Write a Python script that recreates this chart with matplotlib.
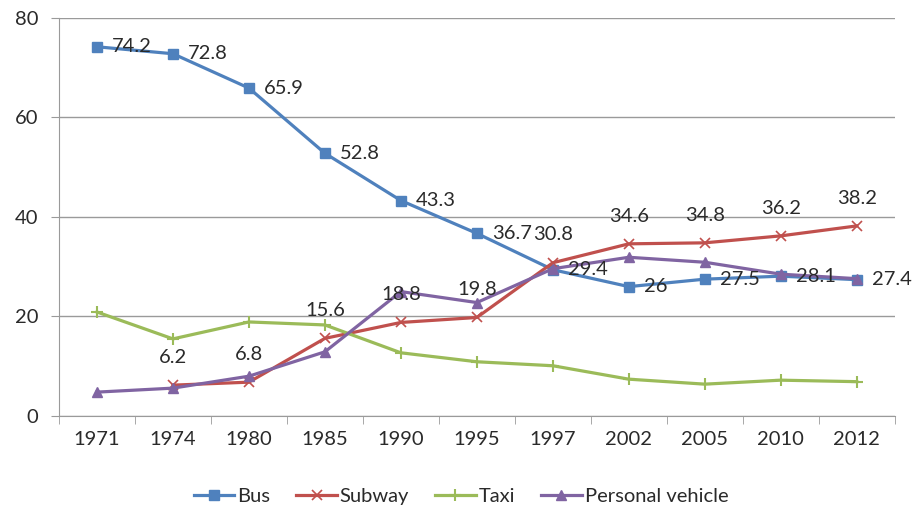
import numpy as np
import matplotlib
matplotlib.use('Agg')
import matplotlib.pyplot as plt

plt.rcParams['font.family'] = ['Lato', 'DejaVu Sans']

# Datos por año (participación en %)
years = ['1971', '1974', '1980', '1985', '1990', '1995', '1997', '2002', '2005', '2010', '2012']
bus = [74.2, 72.8, 65.9, 52.8, 43.3, 36.7, 29.4, 26, 27.5, 28.1, 27.4]
subway = [np.nan, 6.2, 6.8, 15.6, 18.8, 19.8, 30.8, 34.6, 34.8, 36.2, 38.2]
taxi = [20.9, 15.5, 18.9, 18.3, 12.7, 10.9, 10.1, 7.4, 6.4, 7.2, 6.9]
personal = [4.8, 5.6, 8.0, 12.9, 25.0, 22.8, 29.6, 31.9, 30.9, 28.5, 27.6]

gray = '#9a9a9a'
txt = '#2a2a2a'
fs = 14.5
x = np.arange(len(years))

fig = plt.figure(figsize=(9.13, 5.12), dpi=100)
ax = fig.add_axes([0.0646, 0.1875, 0.9154, 0.7775])

ax.plot(x, bus, color='#4F81BD', lw=2.3, marker='s', ms=7, label='Bus')
ax.plot(x, subway, color='#C0504D', lw=2.3, marker='x', ms=7, mew=1.2, label='Subway')
ax.plot(x, taxi, color='#9BBB59', lw=2.3, marker='+', ms=8, mew=1.5, label='Taxi')
ax.plot(x, personal, color='#8064A2', lw=2.3, marker='^', ms=7, label='Personal vehicle')

# Etiquetas de valores: bus a la derecha, metro arriba
for i, v in enumerate(bus):
    ax.annotate('{:g}'.format(v), (x[i], v), xytext=(11, 0), textcoords='offset points',
                ha='left', va='center', fontsize=fs, color=txt)
for i, v in enumerate(subway):
    if np.isnan(v):
        continue
    ax.annotate('{:g}'.format(v), (x[i], v), xytext=(0, 20), textcoords='offset points',
                ha='center', va='center', fontsize=fs, color=txt)

ax.set_xlim(-0.5, len(years) - 0.5)
ax.set_ylim(0, 80)
ax.set_yticks([0, 20, 40, 60, 80])
ax.set_xticks(x)
ax.set_xticklabels(years)
ax.set_xticks(np.arange(-0.5, len(years), 1), minor=True)
ax.tick_params(axis='x', which='major', length=0, labelsize=fs, pad=11, labelcolor=txt)
ax.tick_params(axis='x', which='minor', length=6, color=gray)
ax.tick_params(axis='y', length=6, color=gray, labelsize=fs, labelcolor=txt, pad=9)

ax.grid(axis='y', color=gray, lw=1)
ax.set_axisbelow(True)
for s in ['top', 'right']:
    ax.spines[s].set_visible(False)
for s in ['left', 'bottom']:
    ax.spines[s].set_color(gray)

leg = fig.legend(loc='center', bbox_to_anchor=(0.505, 0.03), ncol=4, frameon=False,
                 fontsize=fs, handlelength=2.0, handletextpad=0.15, columnspacing=1.3)
for t in leg.get_texts():
    t.set_color(txt)

fig.savefig('out.png', dpi=100)
